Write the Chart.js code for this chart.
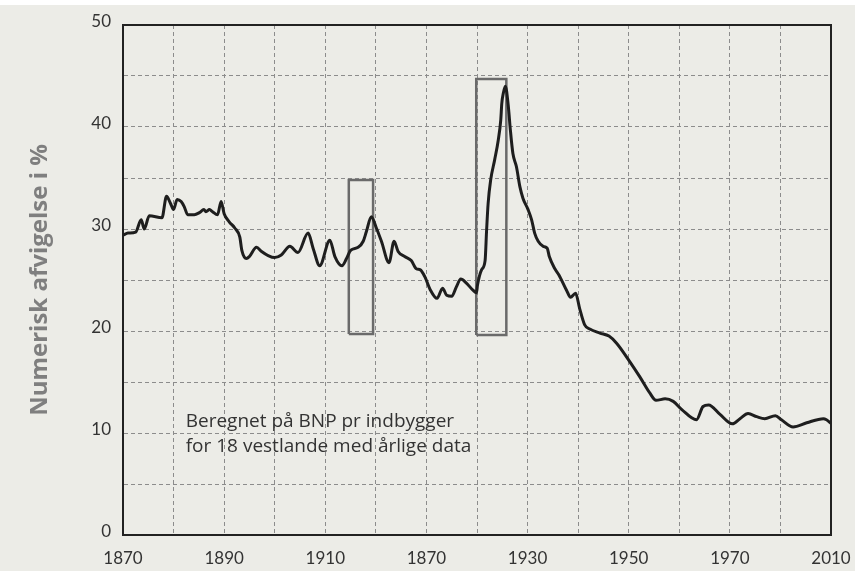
<!DOCTYPE html>
<html>
<head>
<meta charset="utf-8">
<script src="https://cdn.jsdelivr.net/npm/chart.js@4.4.0/dist/chart.umd.min.js"></script>
<style>
  html, body { margin: 0; padding: 0; background: #ffffff; }
  #wrap { position: absolute; left: 0; top: 5px; width: 855px; height: 566px; background: #ecece7; }
</style>
</head>
<body>
<div id="wrap"><canvas id="afvigelseChart" width="855" height="566"></canvas></div>
<script>
// Numerical deviation in % (GDP per capita, 18 western countries)
const years = [
  1870, 1871, 1872.5, 1873.6, 1874.2, 1875.2, 1877.7, 1878.6, 1879.4, 1880,
  1880.7, 1881.5, 1882.1, 1882.8, 1884.1, 1885.1, 1886, 1886.4, 1887.1, 1887.7,
  1888.7, 1889.4, 1890, 1891, 1892.1, 1893.1, 1893.5, 1894.4, 1895, 1896.4,
  1897.4, 1898.7, 1900, 1901.3, 1903, 1904.6, 1906.6, 1907.6, 1908.9, 1910.9,
  1911.9, 1913.3, 1914.2, 1915, 1916.5, 1917.5, 1918.1, 1919.1, 1920.1, 1921.1,
  1922.6, 1923.6, 1924.4, 1925.7, 1927, 1928, 1928.8, 1929.7, 1930.7, 1932.1,
  1933.2, 1934, 1935, 1935.9, 1936.8, 1937.9, 1939.2, 1939.9, 1940.1, 1940.9,
  1941.6, 1941.9, 1942.2, 1942.7, 1943.5, 1944.2, 1944.7, 1944.9, 1945.2, 1945.6,
  1946.2, 1946.6, 1947.1, 1947.8, 1948.5, 1949.1, 1950.1, 1950.8, 1951.4, 1952.1,
  1953.1, 1953.9, 1954.3, 1955.4, 1956.2, 1957.7, 1958.5, 1959.5, 1960.3, 1961.3,
  1962.3, 1964.3, 1966.1, 1967.6, 1970.2, 1972.2, 1974.2, 1975.4, 1977.2, 1978.8,
  1980.5, 1983.4, 1984.7, 1985.8, 1988, 1990.5, 1992, 1993.6, 1995.3, 1996.9,
  1999, 2000.2, 2002.5, 2005.2, 2008.5, 2009.1, 2010
];
const values = [
  29.4, 29.6, 29.7, 30.9, 30.0, 31.3, 31.1, 33.2, 32.5, 31.9,
  32.9, 32.7, 32.2, 31.4, 31.4, 31.6, 31.9, 31.7, 31.9, 31.7,
  31.4, 32.7, 31.5, 30.7, 30.1, 29.2, 27.9, 27.1, 27.3, 28.2,
  27.8, 27.4, 27.2, 27.45, 28.3, 27.7, 29.6, 28.1, 26.4, 28.9,
  27.3, 26.4, 27.1, 27.9, 28.2, 28.8, 29.7, 31.2, 30.1, 28.8,
  26.7, 28.8, 27.8, 27.3, 26.9, 26.1, 26.0, 25.3, 24.1, 23.2,
  24.2, 23.5, 23.4, 24.3, 25.1, 24.7, 24.0, 23.75, 24.5, 26.0,
  26.9, 29.9, 32.5, 34.8, 36.8, 38.7, 40.7, 42.3, 43.3, 44.0,
  42.0, 39.7, 37.4, 36.1, 34.1, 33.0, 31.9, 30.9, 29.6, 28.8,
  28.3, 28.1, 27.3, 26.1, 25.5, 24.0, 23.3, 23.7, 22.2, 20.6,
  20.2, 19.8, 19.5, 18.8, 17.0, 15.5, 13.9, 13.2, 13.35, 13.1,
  12.3, 11.3, 12.6, 12.75, 11.85, 10.9, 11.4, 11.9, 11.6, 11.4,
  11.7, 11.3, 10.6, 11.0, 11.4, 11.3, 10.95
];

// war periods marked with boxes: [from year, to year], [low, high]
const box1Years = [1914.65, 1919.45];
const box1Range = [19.7, 34.8];
const box2Years = [1939.85, 1945.8];
const box2Range = [19.6, 44.7];

// axis labels as printed on the original
const xTickValues = [1870, 1890, 1910, 1930, 1950, 1970, 1990, 2010];
const xTickLabels = ['1870', '1890', '1910', '1870', '1930', '1950', '1970', '2010'];
const yTickLabels = [0, 10, 20, 30, 40, 50];

const yTitle = 'Numerisk afvigelse i %';
const noteLines = ['Beregnet på BNP pr indbygger', 'for 18 vestlande med årlige data'];

function boxPoints(xs, ys) {
  return [
    { x: xs[0], y: ys[0] }, { x: xs[0], y: ys[1] },
    { x: xs[1], y: ys[1] }, { x: xs[1], y: ys[0] },
    { x: xs[0], y: ys[0] }
  ];
}

// frame round the plot area and the note text
const framePlugin = {
  id: 'frame',
  beforeDatasetsDraw(chart) {
    const a = chart.chartArea;
    const ctx = chart.ctx;
    ctx.save();
    ctx.strokeStyle = '#222';
    ctx.lineWidth = 2;
    ctx.strokeRect(a.left, a.top, a.right - a.left, a.bottom - a.top);
    ctx.restore();
  },
  afterDraw(chart) {
    const ctx = chart.ctx;
    const xs = chart.scales.x, ys = chart.scales.y;
    ctx.save();
    ctx.font = '19px "Open Sans"';
    ctx.fillStyle = '#333';
    ctx.textBaseline = 'middle';
    ctx.fillText(noteLines[0], xs.getPixelForValue(1882.4), ys.getPixelForValue(11.1));
    ctx.fillText(noteLines[1], xs.getPixelForValue(1882.4), ys.getPixelForValue(8.65));
    ctx.restore();
  }
};

const ctx = document.getElementById('afvigelseChart').getContext('2d');

new Chart(ctx, {
  type: 'line',
  data: {
    datasets: [
      {
        data: years.map((y, i) => ({ x: y, y: values[i] })),
        borderColor: '#1e1e1e',
        borderWidth: 3,
        pointRadius: 0,
        cubicInterpolationMode: 'monotone'
      },
      {
        data: boxPoints(box1Years, box1Range),
        borderColor: '#6a6a6a',
        borderWidth: 2.5,
        pointRadius: 0,
        tension: 0
      },
      {
        data: boxPoints(box2Years, box2Range),
        borderColor: '#6a6a6a',
        borderWidth: 2.5,
        pointRadius: 0,
        tension: 0
      }
    ]
  },
  options: {
    responsive: false,
    animation: false,
    devicePixelRatio: 1,
    layout: { padding: { top: 20, right: 24, left: 0, bottom: 0 } },
    plugins: {
      legend: { display: false },
      tooltip: { enabled: false }
    },
    scales: {
      x: {
        type: 'linear',
        min: 1870,
        max: 2010,
        afterFit: s => { s.height = 36; s.paddingLeft = 0; s.paddingRight = 0; },
        grid: { color: '#8c8c8c', lineWidth: 1, drawTicks: false },
        border: { color: '#222', width: 2, dash: [4, 3] },
        ticks: {
          stepSize: 10,
          autoSkip: false,
          maxRotation: 0,
          padding: 13,
          color: '#333',
          font: { family: 'Lato', size: 17 },
          callback: v => {
            const i = xTickValues.indexOf(v);
            return i >= 0 ? xTickLabels[i] : '';
          }
        }
      },
      y: {
        min: 0,
        max: 50,
        afterFit: s => { s.width = 123; s.paddingTop = 0; s.paddingBottom = 0; },
        grid: { color: '#8c8c8c', lineWidth: 1, drawTicks: false },
        border: { color: '#222', width: 2, dash: [4, 3] },
        ticks: {
          stepSize: 5,
          padding: 12,
          labelOffset: -3.5,
          color: '#333',
          font: { family: 'Lato', size: 17 },
          callback: v => (yTickLabels.includes(v) ? String(v) : '')
        },
        title: {
          display: true,
          text: yTitle,
          color: '#7f7f7f',
          font: { family: 'Open Sans', size: 24, weight: 'bold' },
          padding: { top: 26, bottom: 0 }
        }
      }
    }
  },
  plugins: [framePlugin]
});
</script>
</body>
</html>
